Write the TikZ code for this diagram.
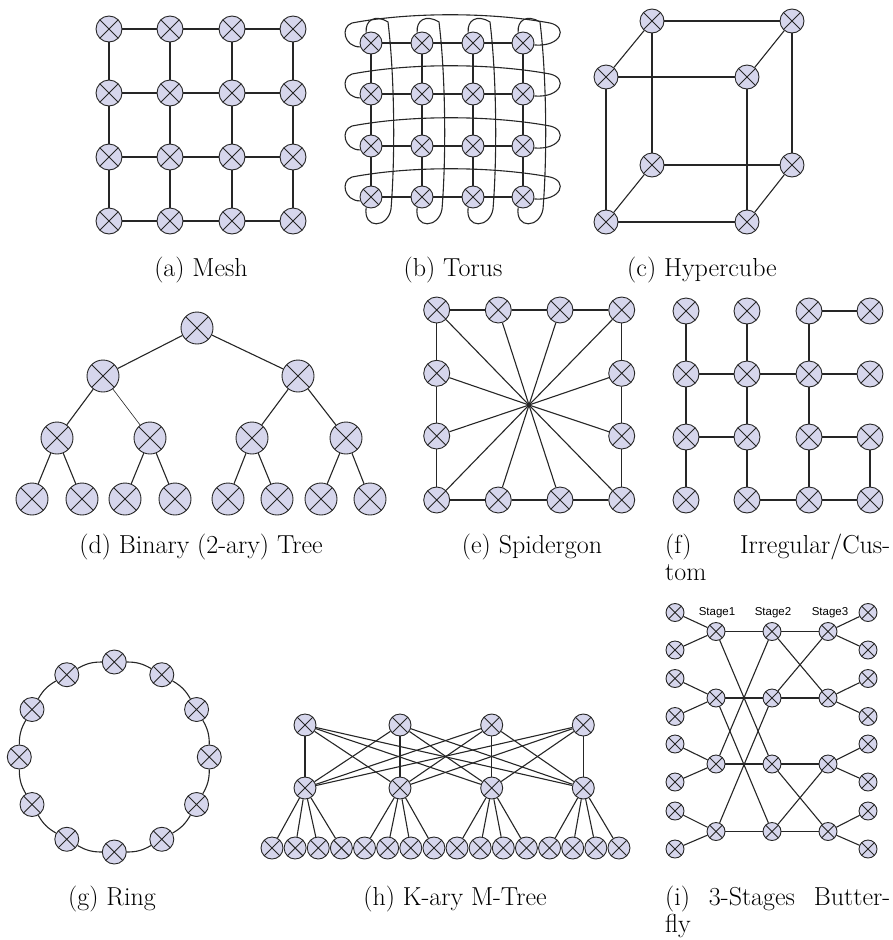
\documentclass[tikz,border=0pt]{standalone}
\usepackage{fontspec}
\newfontfamily\sansA{Liberation Sans}
\definecolor{lav}{RGB}{214,214,236}
\begin{document}
\begin{tikzpicture}[x=1pt,y=-1pt,
  xn/.style={circle,draw=black!85,fill=lav,line width=0.9pt,inner sep=0pt,minimum size=#1,
    path picture={\draw[black!85,line width=0.9pt] (path picture bounding box.north west)--(path picture bounding box.south east) (path picture bounding box.north east)--(path picture bounding box.south west);}},
  ln/.style={line width=1.1pt,black!85},
  thinln/.style={line width=0.6pt,black!85},
  captxt/.style={font=\fontsize{26}{27}\selectfont,anchor=base,inner sep=0pt},
  stlab/.style={font=\sansA\fontsize{11.5}{12}\selectfont,inner sep=0pt}]
\useasboundingbox (0,0) rectangle (893,940);

% (a) Mesh
\foreach \x [count=\i] in {109,170,232,293}{
  \foreach \y [count=\j] in {29,93,157,221}{
    \node[xn=26] (m\i\j) at (\x,\y) {};}}
\foreach \i in {1,...,4}{\foreach \j/\k in {1/2,2/3,3/4}{
  \draw[ln] (m\i\j)--(m\i\k); \draw[ln] (m\j\i)--(m\k\i);}}
\node[captxt] (capa) at (201,276) {(a) Mesh};

% (b) Torus
\foreach \x [count=\i] in {371,422,473,523}{
  \foreach \y [count=\j] in {43,94,146,197}{
    \node[xn=22] (t\i\j) at (\x,\y) {};}}
\foreach \i in {1,...,4}{\foreach \j/\k in {1/2,2/3,3/4}{
  \draw[ln] (t\i\j)--(t\i\k); \draw[ln] (t\j\i)--(t\k\i);}}
\foreach \y [count=\j] in {43,94,146,197}{
  \draw[ln] (t1\j.200) .. controls (344,\y+4) and (340,\y-16) .. (352,\y-20)
    .. controls (410,\y-31) and (490,\y-31) .. (550,\y-20)
    .. controls (568,\y-16) and (562,\y+4) .. (t4\j.-10);}
\foreach \x [count=\i] in {371,422,473,523}{
  \draw[ln] (t\i1.115) .. controls (\x-6,20) and (\x+4,14) .. (\x+17,22)
    .. controls (\x+24,80) and (\x+24,160) .. (\x+20,209)
    .. controls (\x+17,228) and (\x-8,230) .. (t\i4.245);}
\node[captxt] (capb) at (453,276) {(b) Torus};

% (c) Hypercube
\node[xn=24] (hA) at (652,21) {};
\node[xn=24] (hB) at (792,21) {};
\node[xn=24] (hC) at (606,77) {};
\node[xn=24] (hD) at (747,77) {};
\node[xn=24] (hE) at (652,165) {};
\node[xn=24] (hF) at (792,165) {};
\node[xn=24] (hG) at (606,222) {};
\node[xn=24] (hH) at (747,222) {};
\foreach \a/\b in {hA/hB,hB/hF,hF/hE,hE/hA,hC/hD,hD/hH,hH/hG,hG/hC,hA/hC,hB/hD,hE/hG,hF/hH}
  \draw[ln] (\a)--(\b);
\node[captxt] (capc) at (702,276) {(c) Hypercube};

% (d) Binary tree
\node[xn=32] (d1) at (197,328) {};
\node[xn=32] (d2) at (103,376) {};
\node[xn=32] (d3) at (298,376) {};
\foreach \x [count=\i from 4] in {57,150,252,346} \node[xn=32] (d\i) at (\x,438) {};
\foreach \x [count=\i from 8] in {32,82,125,175,228,277,321,370} \node[xn=32] (d\i) at (\x,499) {};
\draw[ln] (d1)--(d2); \draw[ln] (d1)--(d3);
\draw[ln] (d2)--(d4); \draw[thinln] (d2)--(d5);
\draw[ln] (d3)--(d6); \draw[ln] (d3)--(d7);
\foreach \p/\a/\b in {4/8/9,5/10/11,6/12/13,7/14/15}{
  \draw[ln] (d\p)--(d\a); \draw[ln] (d\p)--(d\b);}
\node[captxt] (capd) at (201,553) {(d) Binary (2-ary) Tree};

% (e) Spidergon
\coordinate (spc) at (529,405);
\foreach \x/\y [count=\k] in {436.7/310,498.3/310,560/310,621.7/310,621.7/373.3,621.7/436,621.7/500,560/500,498.3/500,436.7/500,436.7/436,436.7/373.3}
  \node[xn=26] (s\k) at (\x,\y) {};
\foreach \k [evaluate=\k as \n using {int(mod(\k,12)+1)}] in {1,...,12}{
  \draw[ln] (s\k)--(s\n); \draw[ln] (s\k)--(spc);}
\node[captxt] (cape) at (532,553) {(e) Spidergon};

% (f) Irregular
\foreach \x [count=\i] in {686,747,809,870}{
  \foreach \y [count=\j] in {311,374,437,500}{
    \node[xn=26] (g\i\j) at (\x,\y) {};}}
\foreach \a/\b in {g31/g41,g11/g12,g21/g22,g31/g32,g12/g22,g22/g32,g32/g42,g12/g13,g22/g23,g32/g33,g13/g23,g33/g43,g13/g14,g23/g24,g33/g34,g43/g44,g24/g34,g34/g44}
  \draw[ln] (\a)--(\b);
\node[captxt,anchor=base west] (capf) at (665,553) {\makebox[225pt][s]{(f) Irregular/Cus-}};
\node[captxt,anchor=base west] (capf2) at (665,580) {tom};

% (g) Ring
\foreach \k in {0,...,11}
  \node[xn=24] (r\k) at ({114.3+95*cos(90-30*\k)},{757-95*sin(90-30*\k)}) {};
\foreach \k [evaluate=\k as \n using {int(mod(\k+1,12))}] in {0,...,11}
  \draw[ln] (r\k) to[bend left=15] (r\n);
\node[captxt] (capg) at (112,905) {(g) Ring};

% (h) K-ary M-Tree
\foreach \x [count=\i] in {305,400,491.7,583.3}{
  \node[xn=22] (kt\i) at (\x,725) {};
  \node[xn=22] (km\i) at (\x,788) {};}
\foreach \k in {1,...,16} \node[xn=22] (kl\k) at ({272+23.13*(\k-1)},848) {};
\foreach \i in {1,...,4}{\foreach \j in {1,...,4}{
  \pgfmathtruncatemacro\l{4*(\i-1)+\j}
  \draw[ln] (kt\i)--(km\j); \draw[ln] (km\i)--(kl\l);}}
\node[captxt] (caph) at (455,905) {(h) K-ary M-Tree};

% (i) Butterfly
\foreach \y [count=\k] in {612.5,650,678.5,716.5,744,782,811,849}{
  \node[xn=18] (bi\k) at (675,\y) {};
  \node[xn=18] (bo\k) at (868,\y) {};}
\foreach \y [count=\k] in {631.5,698,764,831.5}{
  \node[xn=18] (sa\k) at (716,\y) {};
  \node[xn=18] (sb\k) at (772,\y) {};
  \node[xn=18] (sc\k) at (828,\y) {};}
\foreach \k in {1,...,4}{
  \pgfmathtruncatemacro\a{2*\k-1}\pgfmathtruncatemacro\b{2*\k}
  \draw[ln] (bi\a)--(sa\k); \draw[ln] (bi\b)--(sa\k);
  \draw[ln] (sc\k)--(bo\a); \draw[ln] (sc\k)--(bo\b);
  \draw[ln] (sa\k)--(sb\k); \draw[ln] (sb\k)--(sc\k);}
\foreach \a/\b in {1/3,2/4,3/1,4/2} \draw[ln] (sa\a)--(sb\b);
\foreach \a/\b in {1/2,2/1,3/4,4/3} \draw[ln] (sb\a)--(sc\b);
\node[stlab] (st1) at (717,613) {Stage1};
\node[stlab] (st2) at (773,613) {Stage2};
\node[stlab] (st3) at (830,613) {Stage3};
\node[captxt,anchor=base west] (capi) at (665,905) {\makebox[225pt][s]{(i) 3-Stages Butter-}};
\node[captxt,anchor=base west] (capi2) at (665,932) {fly};
\end{tikzpicture}
\end{document}
